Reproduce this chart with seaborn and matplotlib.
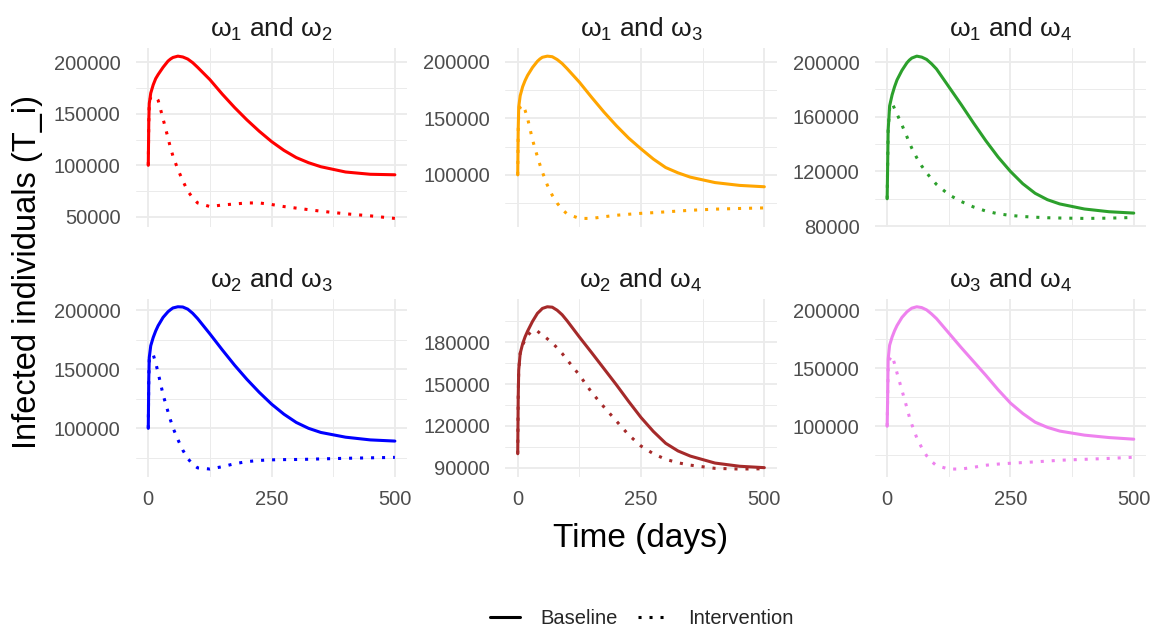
import numpy as np
import pandas as pd
import seaborn as sns
import matplotlib
matplotlib.use("Agg")
import matplotlib.pyplot as plt
from matplotlib.lines import Line2D

# ---------------- data ----------------
time_days = [0, 1, 2, 5, 10, 15, 20, 30, 40, 45, 50, 60, 70, 80, 90, 100, 125, 150,
             175, 200, 225, 250, 275, 300, 325, 350, 400, 450, 500]

pair_titles = [r"$\mathregular{\omega_1}$ and $\mathregular{\omega_2}$",
               r"$\mathregular{\omega_1}$ and $\mathregular{\omega_3}$",
               r"$\mathregular{\omega_1}$ and $\mathregular{\omega_4}$",
               r"$\mathregular{\omega_2}$ and $\mathregular{\omega_3}$",
               r"$\mathregular{\omega_2}$ and $\mathregular{\omega_4}$",
               r"$\mathregular{\omega_3}$ and $\mathregular{\omega_4}$"]
pair_colors = ["#FF0000", "#FFA500", "#2CA02C", "#0000FF", "#A52A2A", "#EE82EE"]
scenarios = ["Baseline", "Intervention"]

base_w12 = [100000, 142000, 160000, 170000, 178000, 184000, 188000, 195000, 201000, 203000,
            204500, 205800, 205000, 203000, 199500, 195000, 183000, 169000, 156000, 144000,
            133000, 123000, 114500, 107500, 102500, 98600, 93500, 91300, 90800]
int_w12 = [100000, 142000, 160000, 166000, 167000, 166500, 163000, 145000, 126500, 117000,
           109000, 96000, 85000, 75000, 68500, 63500, 60000, 61500, 62500, 63500,
           63500, 62000, 60000, 58500, 57000, 55500, 53000, 51000, 48500]

base_w13 = [100000, 140000, 160000, 170000, 178000, 183500, 188000, 195000, 200500, 202500,
            204000, 205000, 204500, 202000, 198500, 194000, 182000, 168500, 155500, 143500,
            132500, 123000, 114000, 106500, 101800, 98000, 93200, 90700, 89500]
int_w13 = [100000, 140000, 155000, 160000, 162000, 157000, 150000, 131000, 116000, 109000,
           102500, 91000, 82000, 75000, 69500, 65500, 61500, 61500, 63000, 64300,
           65200, 66000, 66600, 67300, 68000, 68700, 69700, 70300, 70800]

base_w14 = [100000, 125000, 150000, 168000, 176000, 182000, 187000, 194000, 199500, 201500,
            203000, 204400, 203700, 202000, 198800, 195000, 182000, 169000, 155500, 142500,
            130500, 120000, 111000, 104000, 99300, 96200, 92500, 90500, 89500]
int_w14 = [100000, 125000, 150000, 166000, 170000, 166000, 162000, 154000, 145500, 141000,
           137000, 130000, 124000, 119000, 114500, 110500, 103000, 98000, 94000, 91000,
           89000, 87800, 87000, 86500, 86100, 85900, 85600, 85800, 86300]

base_w23 = [100000, 142000, 160000, 170000, 177000, 182500, 187000, 194000, 198800, 200500,
            202000, 203000, 202800, 201000, 197500, 193000, 180000, 166500, 153500, 141500,
            130500, 120500, 112000, 105000, 100000, 96500, 92500, 90200, 89200]
int_w23 = [100000, 142000, 158000, 162000, 162500, 155500, 147000, 128500, 114000, 107000,
           100500, 90500, 81500, 74500, 69500, 66500, 65500, 67500, 70000, 71800,
           72800, 73300, 73500, 73600, 73800, 74100, 74600, 75000, 75400]

base_w24 = [100000, 140000, 160000, 172000, 179000, 184000, 188000, 195000, 200800, 202500,
            204300, 205500, 205200, 203000, 199800, 195500, 183800, 172500, 161000, 149500,
            137500, 126000, 116000, 107500, 102000, 98300, 93300, 91000, 90000]
int_w24 = [100000, 140000, 160000, 172000, 178000, 182000, 185000, 188500, 188000, 186500,
           185500, 182500, 179500, 176000, 172000, 167500, 156500, 144000, 133500, 123500,
           113500, 105500, 100000, 96000, 93500, 91800, 89500, 89000, 89200]

base_w34 = [100000, 125000, 158000, 170000, 177000, 182500, 187000, 194000, 198800, 200500,
            202000, 203200, 202500, 200500, 197000, 193000, 180500, 168000, 156000, 144000,
            131500, 120000, 111000, 103500, 99000, 95800, 92300, 90200, 88800]
int_w34 = [100000, 125000, 150000, 158000, 161000, 154000, 146000, 131000, 116000, 108000,
           101500, 90000, 81500, 74500, 69500, 66000, 63000, 63000, 64500, 66300,
           67300, 68000, 68600, 69200, 69900, 70600, 71400, 72200, 73200]

y_ticks = [[50000, 100000, 150000, 200000],
           [100000, 150000, 200000],
           [80000, 120000, 160000, 200000],
           [100000, 150000, 200000],
           [90000, 120000, 150000, 180000],
           [100000, 150000, 200000]]
x_ticks = [0, 250, 500]

series = [(base_w12, int_w12), (base_w13, int_w13), (base_w14, int_w14),
          (base_w23, int_w23), (base_w24, int_w24), (base_w34, int_w34)]

rows = []
for title, (b, iv) in zip(pair_titles, series):
    for sc, vals in zip(scenarios, (b, iv)):
        for t, v in zip(time_days, vals):
            rows.append({"pair": title, "scenario": sc, "time": t, "value": v})
df = pd.DataFrame(rows)

# ---------------- style ----------------
sns.set_theme(style="white")
plt.rcParams["font.family"] = ["Liberation Sans", "DejaVu Sans"]
plt.rcParams["mathtext.fontset"] = "custom"
plt.rcParams["mathtext.rm"] = "Liberation Sans"

LW = 2.2
dot = (1, 2.6)

g = sns.relplot(data=df, kind="line", x="time", y="value",
                col="pair", col_wrap=3, col_order=pair_titles,
                hue="pair", hue_order=pair_titles, palette=pair_colors,
                style="scenario", style_order=scenarios,
                dashes={"Baseline": "", "Intervention": dot},
                linewidth=LW, legend=False, estimator=None,
                facet_kws=dict(sharey=False, sharex=True),
                height=3, aspect=1.2)

fig = g.figure
fig.set_size_inches(11.6, 6.32)
fig.set_dpi(100)
fig.subplots_adjust(left=0.1172, right=0.988, top=0.924, bottom=0.245,
                    wspace=0.362, hspace=0.404)

major_c = "#EBEBEB"
for i, ax in enumerate(g.axes.flat):
    ax.set_title(pair_titles[i], fontsize=19, color="#1A1A1A", pad=8)
    ax.set_xlabel("")
    ax.set_ylabel("")
    yt = y_ticks[i]
    ax.set_yticks(yt)
    ax.set_yticklabels([str(v) for v in yt])
    step = yt[1] - yt[0]
    minor = [yt[0] - step / 2] + [v + step / 2 for v in yt]
    ax.set_yticks(minor, minor=True)
    ax.set_xticks(x_ticks)
    ax.set_xticks([125, 375], minor=True)
    ax.set_xlim(-25, 525)
    vals = np.array(series[i][0] + series[i][1], dtype=float)
    lo, hi = vals.min(), vals.max()
    pad = 0.05 * (hi - lo)
    ax.set_ylim(lo - pad, hi + pad)
    ax.grid(which="major", color=major_c, linewidth=1.3)
    ax.grid(which="minor", color=major_c, linewidth=0.7)
    ax.set_axisbelow(True)
    for s in ax.spines.values():
        s.set_visible(False)
    ax.tick_params(which="both", length=0)
    ax.tick_params(axis="y", labelsize=14.5, labelcolor="#4D4D4D", pad=11)
    ax.tick_params(axis="x", labelsize=14.5, labelcolor="#4D4D4D", pad=9)
    if i < 3:
        ax.tick_params(axis="x", labelbottom=False)
    else:
        ax.set_xticklabels([str(v) for v in x_ticks])

fig.text(641 / 1160, 1 - 538 / 632, "Time (days)", fontsize=24,
         ha="center", va="center", color="black")
fig.text(28 / 1160, 1 - 272 / 632, "Infected individuals (T_i)", fontsize=23.5,
         ha="center", va="center", rotation=90, color="black")

handles = [Line2D([], [], color="black", linewidth=2.2, linestyle="-"),
           Line2D([], [], color="black", linewidth=2.2, dashes=dot)]
fig.legend(handles, scenarios, loc="center", bbox_to_anchor=(0.553, 1 - 619 / 632),
           ncol=2, frameon=False, fontsize=14.5, handlelength=1.5,
           handletextpad=1.0, columnspacing=1.0)

fig.savefig("out.png", dpi=100, facecolor="white")
